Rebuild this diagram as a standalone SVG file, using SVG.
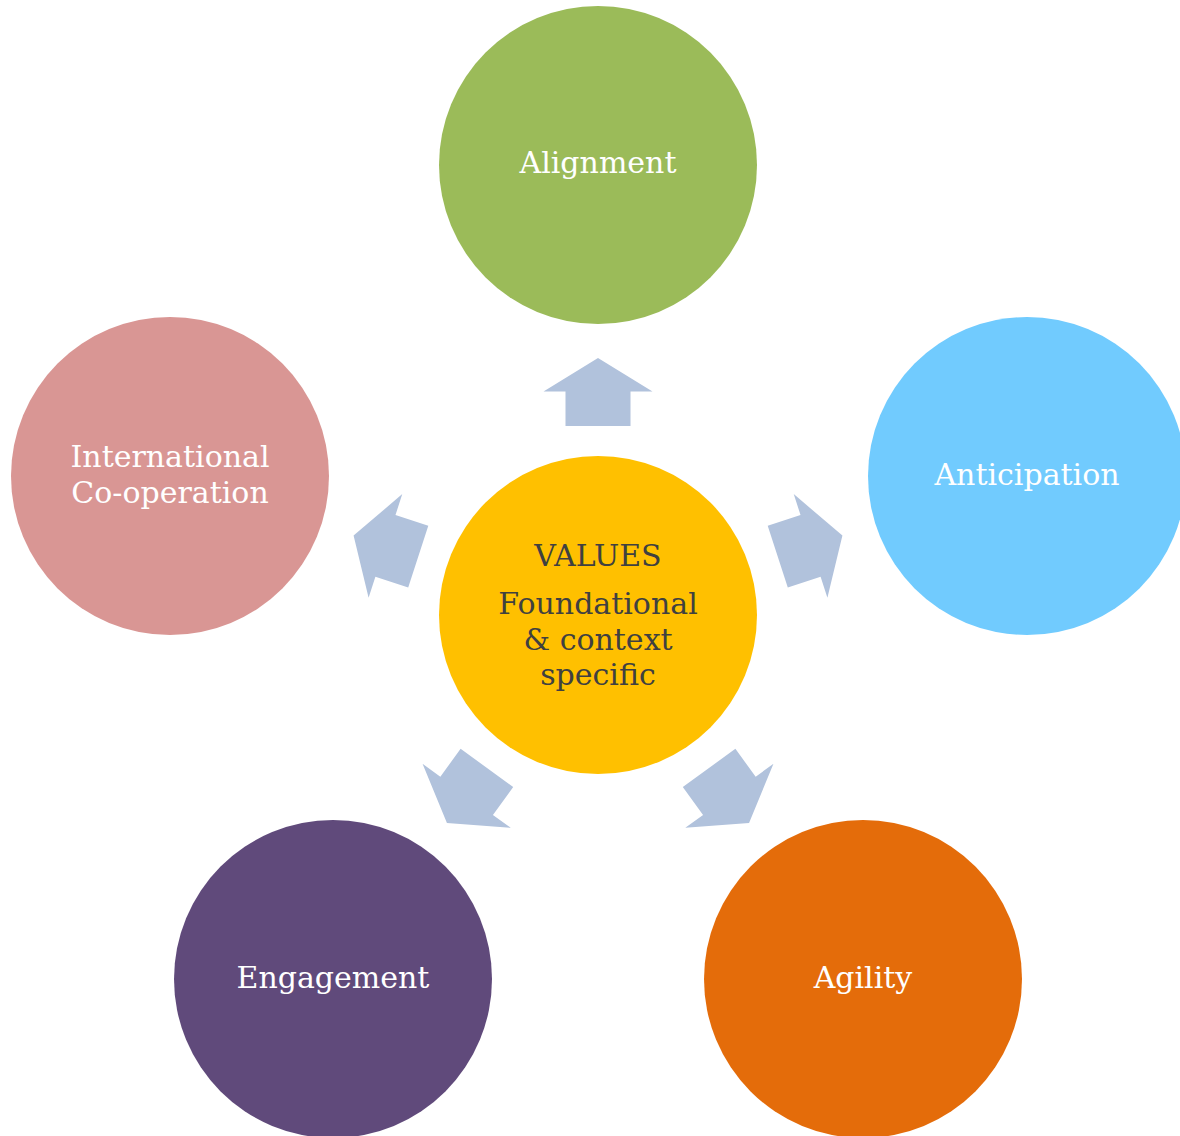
<svg xmlns="http://www.w3.org/2000/svg" width="1180" height="1136" viewBox="0 0 1180 1136">
<style>
.lbl{font-family:"DejaVu Serif","Liberation Serif",serif;font-size:30px;text-anchor:middle;fill:#FFFFFF}
.ctr{font-family:"DejaVu Serif","Liberation Serif",serif;font-size:30px;text-anchor:middle;fill:#404040}
.arr{fill:#B1C2DC}
</style>
<defs>
<path id="arrow" d="M565.5,426 L565.5,391.5 L543.5,391.5 L598,358 L652.5,391.5 L630.5,391.5 L630.5,426 Z"/>
</defs>
<rect width="1180" height="1136" fill="#FFFFFF"/>
<g id="connectors">
<use href="#arrow" class="arr"/>
<use href="#arrow" class="arr" transform="rotate(72 598 615)"/>
<use href="#arrow" class="arr" transform="rotate(144 598 615)"/>
<use href="#arrow" class="arr" transform="rotate(-144 598 615)"/>
<use href="#arrow" class="arr" transform="rotate(-72 598 615)"/>
</g>
<g id="values">
<circle cx="598" cy="615" r="159" fill="#FFC000"/>
<text class="ctr" x="598" y="566">VALUES</text>
<text class="ctr" x="598" y="614">Foundational</text>
<text class="ctr" x="598" y="650">&amp; context</text>
<text class="ctr" x="598" y="685">specific</text>
</g>
<g id="alignment">
<circle cx="598" cy="165" r="159" fill="#9BBB59"/>
<text class="lbl" x="598" y="173">Alignment</text>
</g>
<g id="anticipation">
<circle cx="1027" cy="476" r="159" fill="#71CBFE"/>
<text class="lbl" x="1027" y="485">Anticipation</text>
</g>
<g id="international">
<circle cx="170" cy="476" r="159" fill="#D99694"/>
<text class="lbl" x="170" y="467">International</text>
<text class="lbl" x="170" y="503">Co-operation</text>
</g>
<g id="engagement">
<circle cx="333" cy="979" r="159" fill="#604A7B"/>
<text class="lbl" x="333" y="988">Engagement</text>
</g>
<g id="agility">
<circle cx="863" cy="979" r="159" fill="#E46C0A"/>
<text class="lbl" x="863" y="988">Agility</text>
</g>
</svg>
